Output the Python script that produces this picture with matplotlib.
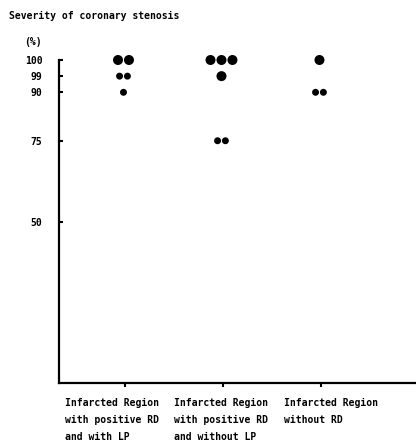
import numpy as np
import matplotlib
matplotlib.use('Agg')
import matplotlib.pyplot as plt

# severity of coronary stenosis (%) per patient, by group
groups = ['Infarcted Region\nwith positive RD\nand with LP',
          'Infarcted Region\nwith positive RD\nand without LP',
          'Infarcted Region\nwithout RD']
stenosis = [
    [100, 100, 99, 99, 90],
    [100, 100, 100, 99, 75, 75],
    [100, 90, 90],
]
# big dot or small dot, as in the original
big = [
    [True, True, False, False, False],
    [True, True, True, True, False, False],
    [True, False, False],
]
yticks = [50, 75, 90, 99, 100]

# the original stretches the top of the axis (99 and 100 get their own room)
raw = [0, 90, 99, 100]
pos = [0, 90, 95, 100]


def fwd(v):
    return np.interp(v, raw, pos)


def inv(v):
    return np.interp(v, pos, raw)


plt.rcParams['font.family'] = ['DejaVu Sans Mono']
plt.rcParams['font.weight'] = 'bold'
plt.rcParams['font.size'] = 7

fig = plt.figure(figsize=(4.16, 4.43), dpi=100)
ax = fig.add_axes([59 / 416, 1 - 383 / 443, 1 - 59 / 416, (383 - 60) / 443])
ax.set_yscale('function', functions=(fwd, inv))

for i in range(len(groups)):
    vals = np.array(stenosis[i])
    sizes = np.array(big[i])
    for v in np.unique(vals):
        idx = np.where(vals == v)[0]
        n = len(idx)
        gap = 0.112 if sizes[idx[0]] else 0.08
        offs = (np.arange(n) - (n - 1) / 2) * gap - 0.015
        for k, j in enumerate(idx):
            ax.scatter(i + 1 + offs[k], vals[j], s=52 if sizes[j] else 25,
                       color='black', edgecolors='none', clip_on=False, zorder=3)

ax.set_xlim(0.327, 3.97)
ax.set_ylim(0, 100)
ax.set_xticks([1, 2, 3])
ax.set_xticklabels([])
ax.set_yticks(yticks)
ax.set_yticklabels([str(t) for t in yticks])
ax.yaxis.set_minor_locator(matplotlib.ticker.NullLocator())
ax.tick_params(axis='y', direction='in', length=3, width=1.5, pad=12)
ax.tick_params(axis='x', direction='out', length=3, width=1.5)
for s in ['top', 'right']:
    ax.spines[s].set_visible(False)
for s in ['left', 'bottom']:
    ax.spines[s].set_linewidth(1.6)

fig.text(9 / 416, 1 - 16 / 443, 'Severity of coronary stenosis', ha='left', va='center')
fig.text(33 / 416, 1 - 42 / 443, '(%)', ha='center', va='center')

label_x = [65, 174, 284]
for lx, g in zip(label_x, groups):
    fig.text(lx / 416, 1 - 398 / 443, g, ha='left', va='top', linespacing=1.85)

fig.savefig('out.png', dpi=100)
